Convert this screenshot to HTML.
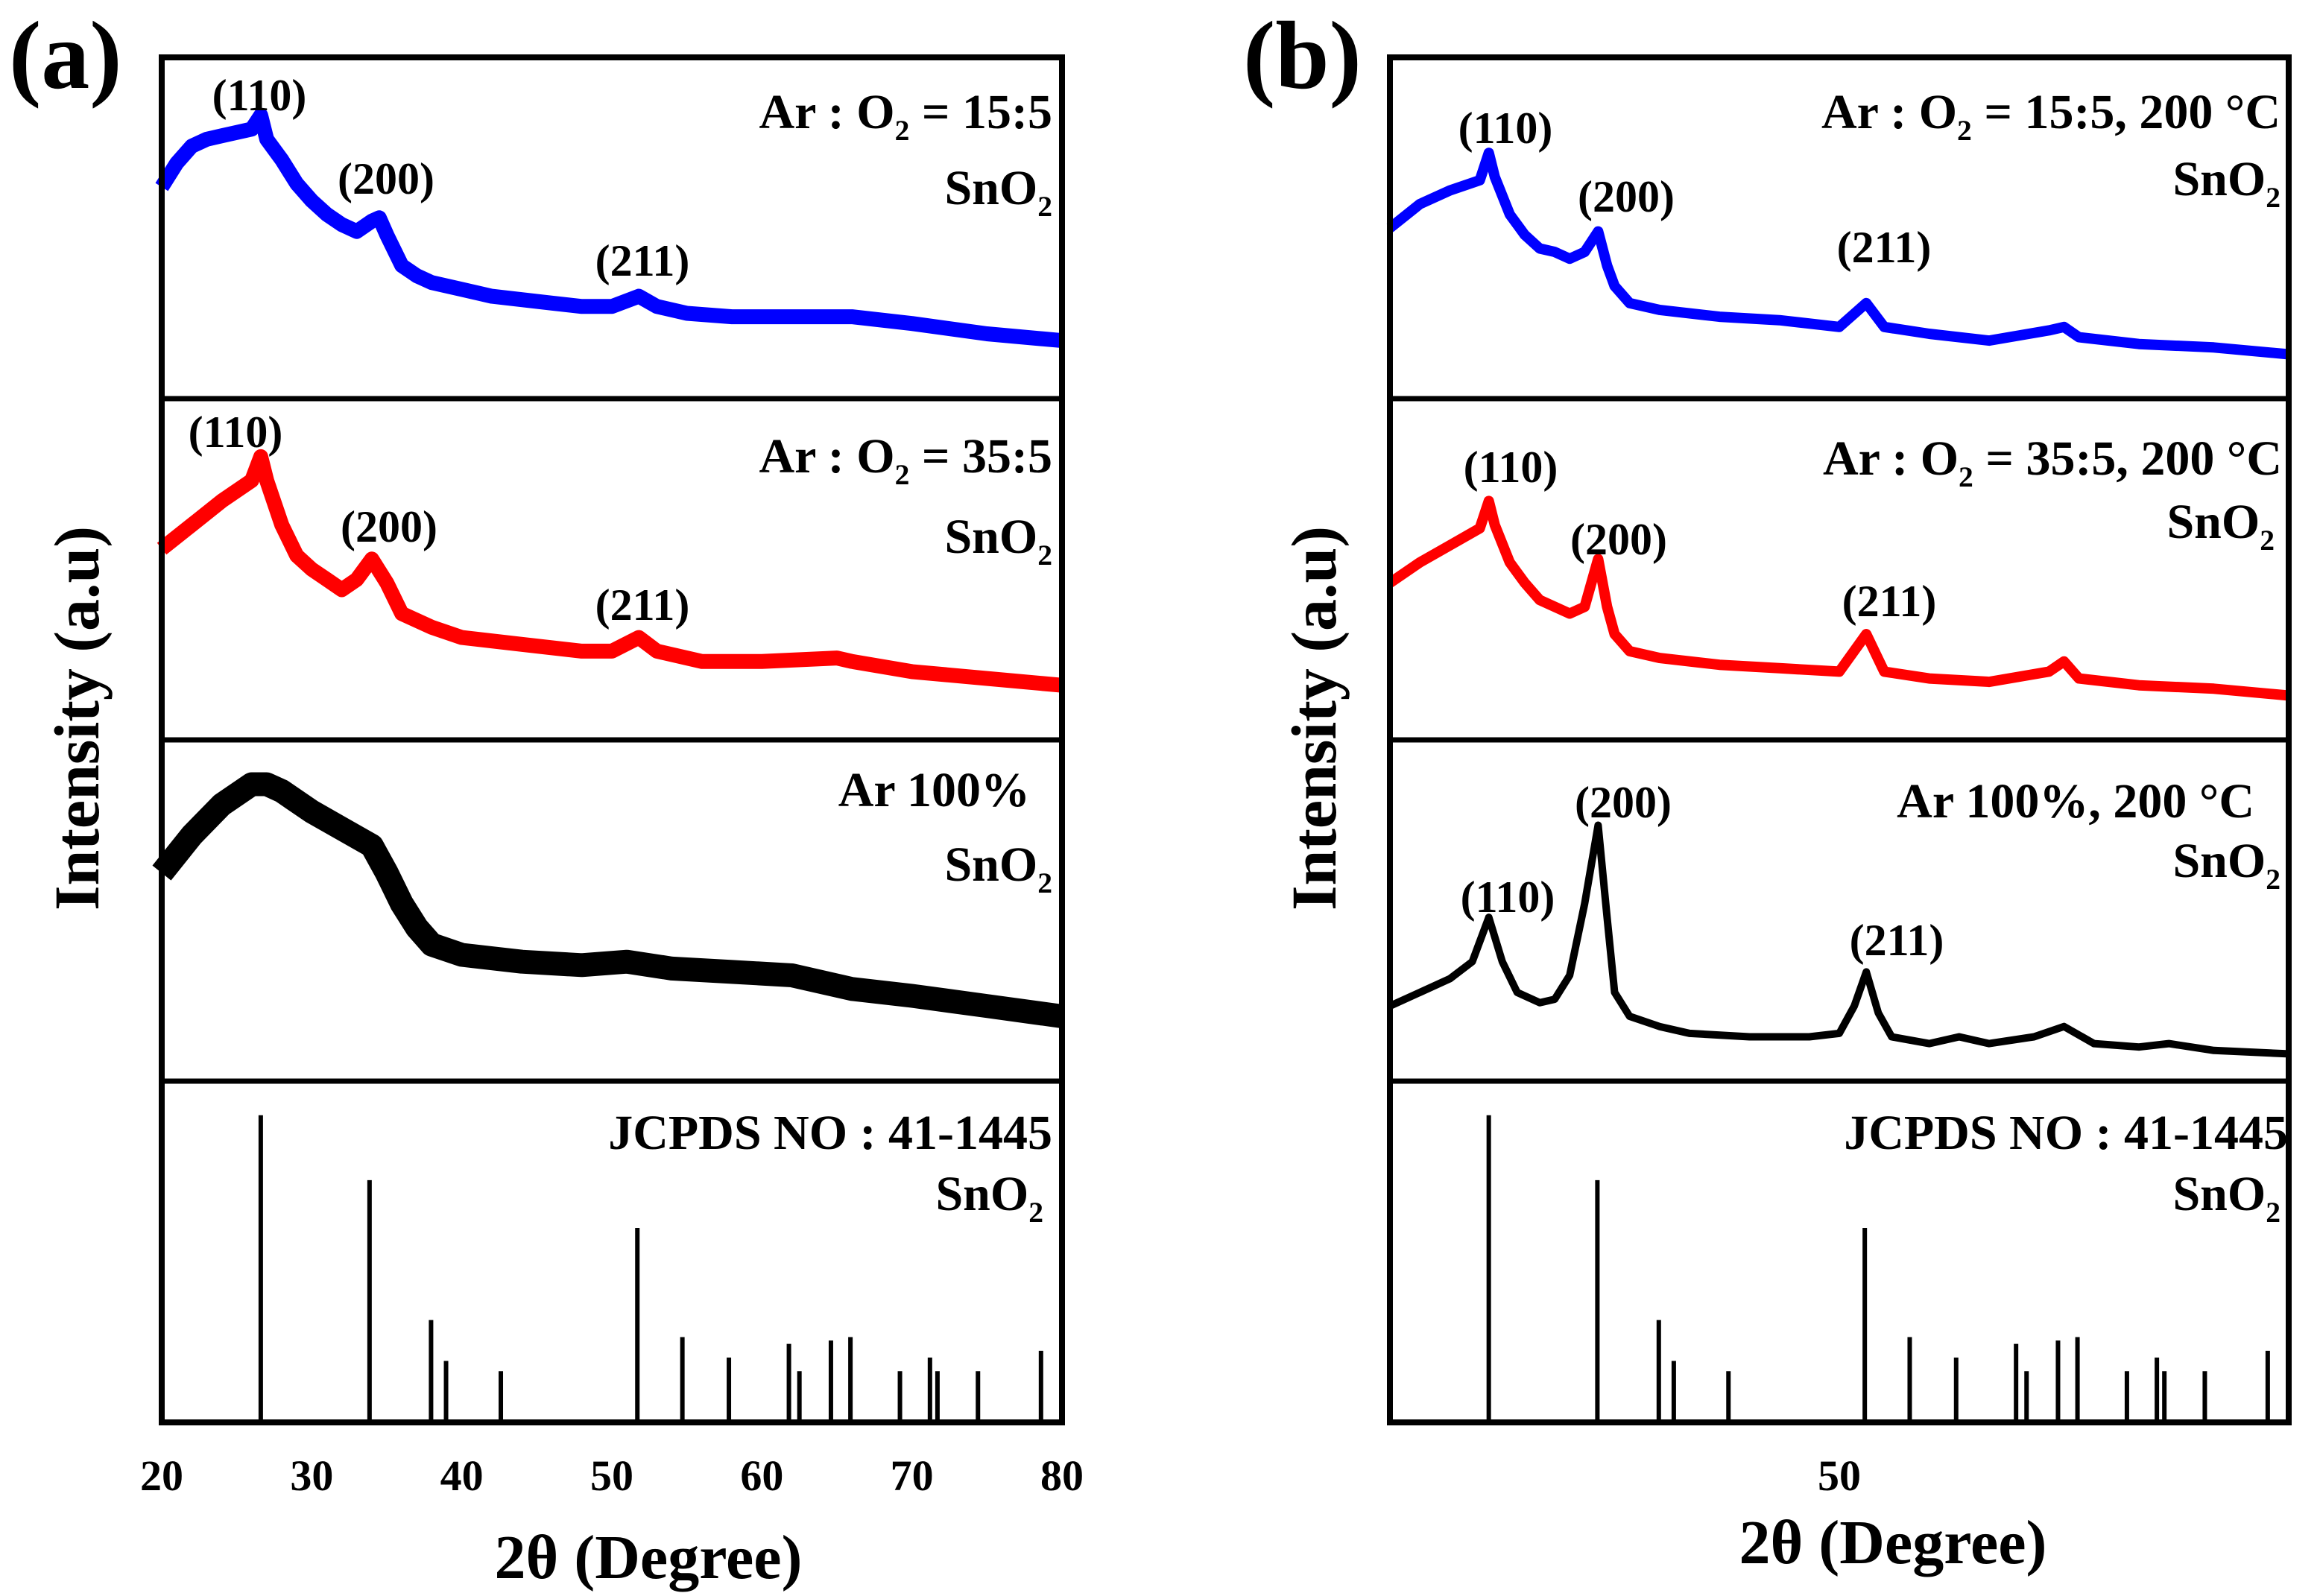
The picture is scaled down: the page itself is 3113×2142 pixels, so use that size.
<!DOCTYPE html>
<html><head><meta charset="utf-8"><style>
html,body{margin:0;padding:0;background:#fff}
svg{display:block}
text{font-family:"Liberation Serif",serif;font-weight:bold;fill:#000}
</style></head><body>
<svg id="fig" width="3113" height="2142" viewBox="0 0 3113 2142" xmlns="http://www.w3.org/2000/svg">
<rect width="3113" height="2142" fill="#fff"/>
<text x="12" y="118" font-size="130">(a)</text>
<text x="1668" y="118" font-size="130">(b)</text>
<text transform="translate(132,964) rotate(-90)" text-anchor="middle" font-size="86">Intensity (a.u)</text>
<text transform="translate(1792,964) rotate(-90)" text-anchor="middle" font-size="86">Intensity (a.u)</text>
<text x="870" y="2118" text-anchor="middle" font-size="84">2θ (Degree)</text>
<text x="2540" y="2098" text-anchor="middle" font-size="84">2θ (Degree)</text>
<g id="marks"></g>
</svg>
<script>
// ---- data (2θ degrees, intensity in % of panel height) ----
const aBlueX=[20,21,22,23,24,25,26,26.6,27,28,29,30,31,32,33,34,34.5,35,36,37,38,40,42,44,46,48,50,51.8,53,55,58,62,66,70,75,80];
const aBlueY=[62,69,74,76,77,78,79,83,76,70,63,58,54,51,49,52,53,48,39,36,34,32,30,29,28,27,27,30,27,25,24,24,24,22,19,17];
const aRedX=[20,22,24,26,26.6,27,28,29,30,31,32,33,34,35,36,38,40,44,48,50,51.8,53,56,60,65,66,70,75,80];
const aRedY=[56,63,70,76,83,76,63,54,50,47,44,47,53,46,37,33,30,28,26,26,30,26,23,23,24,23,20,18,16];
const aBlackX=[20,22,24,26,27,28,30,32,34,35,36,37,38,40,44,48,51,54,58,62,66,70,75,80];
const aBlackY=[61,72,81,87,87,85,79,74,69,61,52,45,40,37,35,34,35,33,32,31,27,25,22,19];
const bBlueX=[20,22,24,26,26.6,27,28,29,30,31,32,33,33.9,34.5,35,36,38,42,46,50,51.8,53,56,60,64,65,66,70,75,80];
const bBlueY=[50,57,61,64,72,65,54,48,44,43,41,43,49,39,33,28,26,24,23,21,28,21,19,17,20,21,18,16,15,13];
const bRedX=[20,22,24,26,26.6,27,28,29,30,31,32,33,33.9,34.5,35,36,38,42,46,50,51.8,53,56,60,64,65,66,70,75,80];
const bRedY=[46,52,57,62,70,63,52,46,41,39,37,39,53,39,31,26,24,22,21,20,31,20,18,17,20,23,18,16,15,13];
const bBlackX=[20,22,24,25.5,26.6,27.5,28.5,30,31,32,33,33.9,34.5,35,36,38,40,44,48,50,51,51.8,52.6,53.5,56,58,60,63,65,67,70,72,75,80];
const bBlackY=[22,26,30,35,48,35,26,23,24,31,52,75,48,26,19,16,14,13,13,14,22,32,20,13,11,13,11,13,16,11,10,11,9,8];
const refPos=[26.6,33.85,37.95,38.95,42.6,51.7,54.7,57.8,61.8,62.5,64.6,65.9,69.2,71.2,71.7,74.4,78.6];
const refInt=[90,71,30,18,15,57,25,19,23,15,24,25,15,19,15,15,21];
const xTicksA=[20,30,40,50,60,70,80];
const xTicksB=[50];

const NS="http://www.w3.org/2000/svg";
const g=document.getElementById('marks');
const panelsX=[[217,1425],[1865,3071]];
const rowsY=[77,535,993,1451,1909];
function xs(p,d){const [a,b]=panelsX[p];return a+(d-20)/60*(b-a);}
function ys(r,v){const top=rowsY[r],bot=rowsY[r+1];return bot-v/100*(bot-top);}
function mk(tag,attrs){const e=document.createElementNS(NS,tag);for(const k in attrs)e.setAttribute(k,attrs[k]);g.appendChild(e);return e;}

function series(p,r,X,Y,color,w,name){
  const d=X.map((x,i)=>(i?'L':'M')+xs(p,x).toFixed(1)+','+ys(r,Y[i]).toFixed(1)).join('');
  const e=mk('path',{d:d,fill:'none',stroke:color,'stroke-width':w,'stroke-linejoin':'round','stroke-linecap':'butt'});
  
  
}
series(0,0,aBlueX,aBlueY,'#0000ff',20,'series-a-15-5');
series(0,1,aRedX,aRedY,'#ff0000',20,'series-a-35-5');
series(0,2,aBlackX,aBlackY,'#000',32,'series-a-ar100');
series(1,0,bBlueX,bBlueY,'#0000ff',14,'series-b-15-5');
series(1,1,bRedX,bRedY,'#ff0000',14,'series-b-35-5');
series(1,2,bBlackX,bBlackY,'#000',10,'series-b-ar100');

for(let p=0;p<2;p++){
  refPos.forEach((d,i)=>{
    const e=mk('line',{x1:xs(p,d),x2:xs(p,d),y1:rowsY[4],y2:ys(3,refInt[i]),stroke:'#000','stroke-width':6});
    
    
  });
  const [a,b]=panelsX[p];
  const f=mk('rect',{x:a,y:rowsY[0],width:b-a,height:rowsY[4]-rowsY[0],fill:'none',stroke:'#000','stroke-width':8});
  
  
  for(let r=1;r<4;r++){
    const l=mk('line',{x1:a,x2:b,y1:rowsY[r],y2:rowsY[r],stroke:'#000','stroke-width':7});
    
    
  }
}
xTicksA.forEach(t=>{
  const e=mk('text',{x:xs(0,t),y:2000,'text-anchor':'middle','font-size':58});
  e.textContent=t;
  
  
});
xTicksB.forEach(t=>{
  const e=mk('text',{x:xs(1,t),y:2000,'text-anchor':'middle','font-size':58});
  e.textContent=t;
  
  
});

function label(x,y,txt,size,anchor,name){
  const e=mk('text',{x:x,y:y,'text-anchor':anchor,'font-size':size});
  const parts=txt.split('_2');
  parts.forEach((s,i)=>{
    const t=document.createElementNS(NS,'tspan');t.textContent=s;
    if(i>0){t.setAttribute('dy',-16);}
    e.appendChild(t);
    if(i<parts.length-1){const sub=document.createElementNS(NS,'tspan');sub.textContent='2';sub.setAttribute('font-size',size*0.6);sub.setAttribute('dy',16);e.appendChild(sub);}
  });
  
  
}
const A=66,P=60;
label(1412,172,'Ar : O_2 = 15:5',A,'end','condition-label');
label(1412,274,'SnO_2',A,'end','material-label');
label(348,148,'(110)',P,'middle','peak-label');
label(518,260,'(200)',P,'middle','peak-label');
label(862,370,'(211)',P,'middle','peak-label');
label(1412,634,'Ar : O_2 = 35:5',A,'end','condition-label');
label(1412,742,'SnO_2',A,'end','material-label');
label(316,600,'(110)',P,'middle','peak-label');
label(522,727,'(200)',P,'middle','peak-label');
label(862,832,'(211)',P,'middle','peak-label');
label(1382,1082,'Ar  100%',A,'end','condition-label');
label(1412,1182,'SnO_2',A,'end','material-label');
label(1412,1542,'JCPDS NO : 41-1445',A,'end','reference-label');
label(1400,1624,'SnO_2',A,'end','material-label');

label(3060,172,'Ar : O_2 = 15:5,  200 °C',A,'end','condition-label');
label(3060,262,'SnO_2',A,'end','material-label');
label(2020,192,'(110)',P,'middle','peak-label');
label(2182,284,'(200)',P,'middle','peak-label');
label(2528,352,'(211)',P,'middle','peak-label');
label(3062,637,'Ar : O_2 = 35:5,  200 °C',A,'end','condition-label');
label(3052,722,'SnO_2',A,'end','material-label');
label(2027,647,'(110)',P,'middle','peak-label');
label(2172,744,'(200)',P,'middle','peak-label');
label(2535,827,'(211)',P,'middle','peak-label');
label(3025,1097,'Ar  100%, 200 °C',A,'end','condition-label');
label(3060,1177,'SnO_2',A,'end','material-label');
label(2023,1224,'(110)',P,'middle','peak-label');
label(2178,1097,'(200)',P,'middle','peak-label');
label(2545,1282,'(211)',P,'middle','peak-label');
label(3070,1542,'JCPDS NO : 41-1445',A,'end','reference-label');
label(3060,1624,'SnO_2',A,'end','material-label');
</script>
</body></html>
